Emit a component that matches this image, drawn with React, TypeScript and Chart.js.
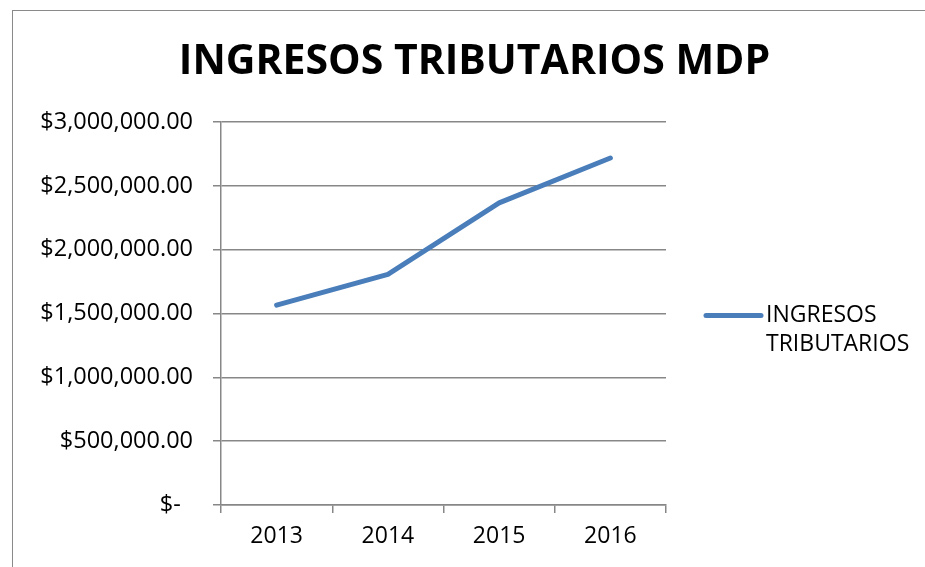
import React, { useEffect, useRef } from "react";
import { Chart, registerables } from "chart.js";

Chart.register(...registerables);

const chartTitle = "INGRESOS TRIBUTARIOS MDP";
const categories = ["2013", "2014", "2015", "2016"];
const seriesName = "INGRESOS TRIBUTARIOS";
const seriesValues = [1565000, 1807000, 2366000, 2718000];
const yTickValues = [0, 500000, 1000000, 1500000, 2000000, 2500000, 3000000];

const LINE_COLOR = "#4a7ebb";
const GRID_COLOR = "#878787";
const FONT = "'Open Sans', sans-serif";

function formatMoney(v: number): string {
  if (v === 0) return "$-  ";
  return "$" + v.toLocaleString("en-US", { minimumFractionDigits: 2, maximumFractionDigits: 2 });
}

const decorPlugin = {
  id: "decor",
  beforeDraw(chart: any) {
    const ctx = chart.ctx;
    ctx.save();
    ctx.fillStyle = "#ffffff";
    ctx.fillRect(0, 0, chart.width, chart.height);
    ctx.strokeStyle = "#8a8a8a";
    ctx.lineWidth = 1;
    ctx.strokeRect(12.5, 10.5, chart.width + 20, chart.height + 20);
    ctx.restore();
  },
  afterDraw(chart: any) {
    const ctx = chart.ctx;
    const area = chart.chartArea;
    ctx.save();
    // Title
    ctx.fillStyle = "#000000";
    ctx.font = `bold 41px ${FONT}`;
    ctx.textAlign = "center";
    ctx.textBaseline = "middle";
    ctx.fillText(chartTitle, chart.width / 2 + 12, 62);

    // Legend
    const ds = chart.data.datasets[0];
    const midY = (area.top + area.bottom) / 2 + 2;
    const lx = area.right + 40;
    ctx.strokeStyle = ds.borderColor;
    ctx.lineWidth = 5;
    ctx.lineCap = "round";
    ctx.beginPath();
    ctx.moveTo(lx, midY);
    ctx.lineTo(lx + 55, midY);
    ctx.stroke();
    ctx.font = `23px ${FONT}`;
    ctx.textAlign = "left";
    ctx.fillStyle = "#000000";
    const words = String(ds.label).split(" ");
    words.forEach((w, i) => {
      ctx.fillText(w, lx + 60, midY + i * 29);
    });
    ctx.restore();
  },
};

export default function App() {
  const canvasRef = useRef<HTMLCanvasElement | null>(null);

  useEffect(() => {
    const canvas = canvasRef.current;
    if (!canvas) return;
    const chart = new Chart(canvas, {
      type: "line",
      data: {
        labels: categories,
        datasets: [
          {
            label: seriesName,
            data: seriesValues,
            borderColor: LINE_COLOR,
            backgroundColor: LINE_COLOR,
            borderWidth: 5,
            borderCapStyle: "round",
            borderJoinStyle: "round",
            pointRadius: 0,
            pointHoverRadius: 0,
            tension: 0,
          },
        ],
      },
      options: {
        responsive: false,
        animation: false,
        layout: { padding: { top: 122, left: 0, right: 259, bottom: 12 } },
        plugins: {
          legend: { display: false },
          title: { display: false },
          tooltip: { enabled: false },
        },
        scales: {
          x: {
            type: "category",
            offset: true,
            grid: {
              offset: true,
              drawOnChartArea: false,
              drawTicks: true,
              tickLength: 8,
              color: GRID_COLOR,
              lineWidth: 1.5,
            },
            border: { display: true, color: GRID_COLOR, width: 1.5 },
            ticks: {
              color: "#000000",
              font: { family: FONT, size: 23 },
              padding: 10,
              maxRotation: 0,
            },
            afterFit: (s: any) => {
              s.height = 50;
            },
          },
          y: {
            min: 0,
            max: 3000000,
            afterBuildTicks: (s: any) => {
              s.ticks = yTickValues.map((v) => ({ value: v }));
            },
            grid: {
              color: GRID_COLOR,
              lineWidth: 1.5,
              drawTicks: true,
              tickLength: 8,
            },
            border: { display: true, color: GRID_COLOR, width: 1.5 },
            ticks: {
              color: "#000000",
              font: { family: FONT, size: 23.5 },
              padding: 20,
              callback: (v: any) => formatMoney(Number(v)),
            },
            afterFit: (s: any) => {
              s.width = 221;
            },
          },
        },
      },
      plugins: [decorPlugin],
    });
    return () => chart.destroy();
  }, []);

  return (
    <div style={{ position: "fixed", left: 0, top: 0, width: 925, height: 567, background: "#fff" }}>
      <canvas ref={canvasRef} width={925} height={567} style={{ display: "block" }} />
    </div>
  );
}
